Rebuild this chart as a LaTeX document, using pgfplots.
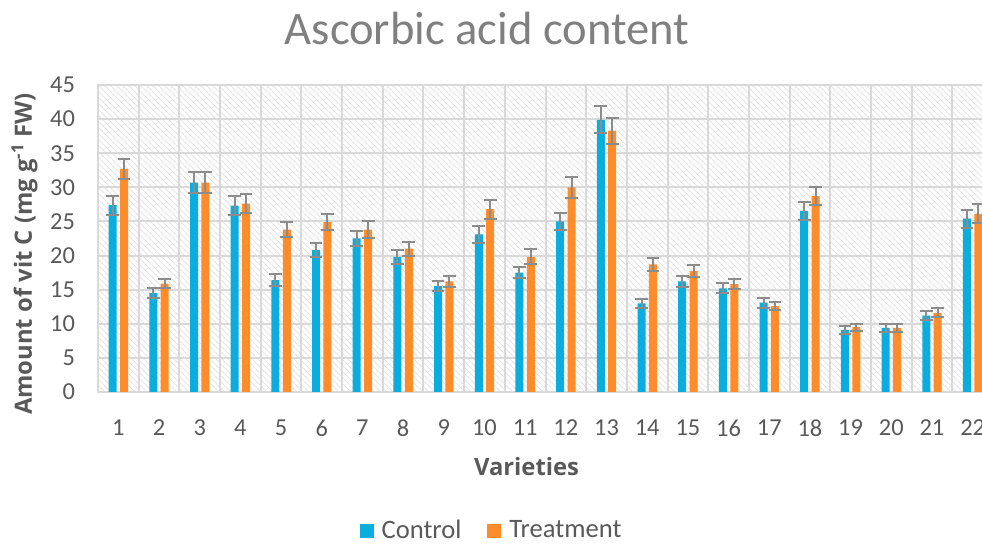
\documentclass[border=0pt]{standalone}
\usepackage{fontspec}
\setmainfont{Carlito}
\newfontfamily\labfont{Open Sans}
\usepackage{pgfplots}
\usepackage{pgfplotstable}
\pgfplotsset{compat=1.18}
\usetikzlibrary{patterns}
\definecolor{cblue}{RGB}{10,173,222}
\definecolor{corange}{RGB}{255,140,42}
\definecolor{errgray}{RGB}{140,140,140}
\definecolor{gridgray}{RGB}{217,217,217}
\definecolor{txtgray}{RGB}{89,89,89}
\definecolor{titlegray}{RGB}{128,128,128}

\pgfplotstableread{
x y e
1 27.4 1.4
2 14.5 0.75
3 30.7 1.6
4 27.3 1.4
5 16.4 0.85
6 20.8 1.0
7 22.5 1.05
8 19.8 1.05
9 15.5 0.73
10 23.1 1.2
11 17.5 0.85
12 25.0 1.3
13 39.9 2.0
14 13.0 0.7
15 16.2 0.8
16 15.2 0.75
17 13.1 0.75
18 26.5 1.3
19 9.1 0.6
20 9.4 0.55
21 11.2 0.65
22 25.4 1.3
}\control

\pgfplotstableread{
x y e
1 32.7 1.5
2 15.9 0.7
3 30.7 1.6
4 27.6 1.35
5 23.8 1.1
6 24.9 1.15
7 23.8 1.25
8 21.0 1.05
9 16.2 0.8
10 26.8 1.4
11 19.8 1.1
12 30.0 1.5
13 38.3 1.9
14 18.7 1.0
15 17.7 0.85
16 15.8 0.75
17 12.6 0.65
18 28.7 1.35
19 9.5 0.5
20 9.4 0.55
21 11.6 0.65
22 26.1 1.4
}\treatment

\begin{document}
\begin{tikzpicture}
\begin{axis}[
  at={(0pt,0pt)}, anchor=south west,
  scale only axis, width=447.5pt, height=153.5pt,
  xmin=0.5, xmax=22.5, ymin=0, ymax=45,
  ytick={0,5,...,45}, xtick={1,...,22},
  minor xtick={0.5,1.5,...,22.5},
  ymajorgrids, xminorgrids,
  major tick length=0pt, minor tick length=0pt,
  grid style={gridgray, line width=1pt},
  minor grid style={gridgray, line width=1pt},
  axis line style={gridgray, line width=1pt},
  axis background/.style={pattern=north west lines, pattern color=black!10},
  ybar=1.7pt, bar width=4pt,
  tick label style={font=\fontsize{12.2}{14}\selectfont, text=txtgray},
  /pgf/number format/assume math mode=true,
  xticklabel style={yshift=-10.5pt},
  yticklabel style={xshift=-8pt},
  legend style={draw=none, fill=none, legend columns=2,
    at={(0.4408,-0.452)}, anchor=center,
    font=\fontsize{13.3}{15}\selectfont, text=txtgray,
    /tikz/every odd column/.append style={column sep=2pt},
    /tikz/every even column/.append style={column sep=11pt}},
  legend image code/.code={\fill[#1] (0pt,-3.5pt) rectangle (7pt,3.5pt);},
]
\addplot[fill=cblue, draw=none,
  error bars/.cd, y dir=both, y explicit, error mark=-,
  error bar style={errgray, line width=1pt},
  error mark options={rotate=90, errgray, line width=1pt, mark size=3.2pt}]
  table[x=x, y=y, y error=e]{\control};
\addlegendentry{Control}
\addplot[fill=corange, draw=none,
  error bars/.cd, y dir=both, y explicit, error mark=-,
  error bar style={errgray, line width=1pt},
  error mark options={rotate=90, errgray, line width=1pt, mark size=3.2pt}]
  table[x=x, y=y, y error=e]{\treatment};
\addlegendentry{Treatment}
\end{axis}
\node[anchor=base, font=\fontsize{23.3}{26}\selectfont, text=titlegray] at (194.5pt,173.5pt) {Ascorbic acid content};
\node[anchor=base, font=\labfont\bfseries\fontsize{11.9}{14}\selectfont, text=txtgray] at (214.25pt,-42pt) {Varieties};
\node[anchor=base, rotate=90, font=\labfont\bfseries\fontsize{11.9}{14}\selectfont, text=txtgray] at (-33pt,69pt) {Amount of vit C (mg g\textsuperscript{-1} FW)};
\pgfresetboundingbox
\useasboundingbox (-49pt,-76.5pt) rectangle (442pt,196pt);
\end{tikzpicture}
\end{document}
